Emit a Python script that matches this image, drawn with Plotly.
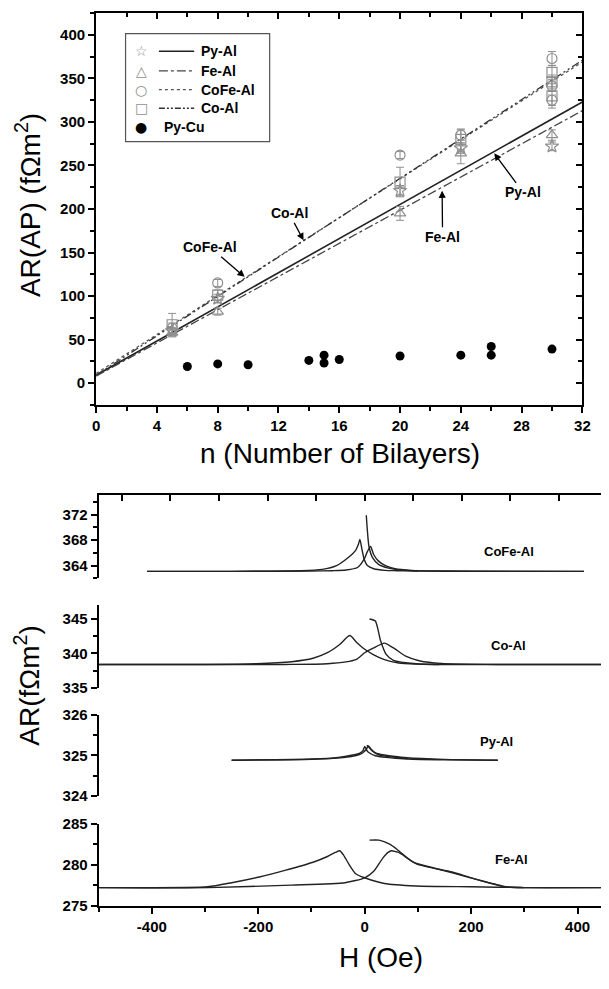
import plotly.graph_objects as go

W, HGT = 609, 989
FONT = "Liberation Sans, Arial, sans-serif"


def fx(p):
    return p / W


def fy(p):
    return 1 - p / HGT


# ---------------- upper panel: AR(AP) versus number of bilayers ----------------
py_al_n = [5, 8, 20, 24, 30]
py_al_ar = [60, 97, 221, 270, 272]
py_al_err = [4, 5, 6, 6, 5]

fe_al_n = [5, 8, 20, 24, 30]
fe_al_ar = [58, 82, 195, 264, 285]
fe_al_err = [5, 4, 8, 12, 6]

cofe_al_n = [5, 8, 20, 24, 30, 30, 30]
cofe_al_ar = [63, 115, 262, 285, 373, 341, 325]
cofe_al_err = [6, 4, 4, 6, 8, 6, 6]

co_al_n = [5, 8, 20, 24, 30, 30, 30]
co_al_ar = [67, 101, 231, 280, 357, 346, 330]
co_al_err = [13, 6, 17, 12, 8, 8, 14]

py_cu_n = [6, 8, 10, 14, 15, 15, 16, 20, 24, 26, 26, 30]
py_cu_ar = [19, 22, 21, 26, 32, 23, 27, 31, 32, 42, 32, 39]

# linear fits, end points at n = 0 and n = 32
fit_n = [0, 32]
py_al_fit = [9, 323]
fe_al_fit = [8, 313]
cofe_al_fit = [11, 369]
co_al_fit = [9, 371]

# ---------------- lower panels: AR versus field H (Oe) ----------------
cofe_down_h = [412, 200, 100, 60, 38, 17, 5, -1, -5.5, -9, -12, -17, -32, -53, -80, -120, -250, -409]
cofe_down_ar = [363.1, 363.1, 363.15, 363.2, 363.25, 363.5, 364.0, 365.0, 366.7, 368.1, 367.3,
                366.4, 365.2, 364.0, 363.4, 363.2, 363.1, 363.1]
cofe_up_h = [-409, -250, -100, -60, -35, -13.5, -1, 5, 11, 17, 26, 39, 57, 88, 150, 412]
cofe_up_ar = [363.1, 363.1, 363.15, 363.2, 363.3, 363.7, 365.0, 366.2, 367.0, 365.7, 364.7,
              364.0, 363.5, 363.25, 363.15, 363.1]
cofe_init_h = [3, 5, 8, 15, 26, 45, 70, 100]
cofe_init_ar = [371.9, 369.5, 367.0, 365.2, 364.2, 363.6, 363.3, 363.15]

co_down_h = [444, 250, 131, 97, 64, 37, 17, 0, -15, -28, -47, -70, -97, -137, -204, -300, -500]
co_down_ar = [338.4, 338.4, 338.4, 338.45, 338.6, 339.1, 339.8, 340.6, 341.6, 342.6, 341.3,
              340.1, 339.3, 338.8, 338.5, 338.4, 338.4]
co_up_h = [-500, -300, -150, -70, -16.6, 0, 17, 37, 54, 77, 104, 144, 250, 444]
co_up_ar = [338.4, 338.4, 338.4, 338.5, 339.1, 340.1, 340.8, 341.5, 340.8, 339.6, 338.9,
            338.55, 338.4, 338.4]
co_init_h = [9, 20, 30, 40, 54, 97, 140]
co_init_ar = [345.0, 344.7, 341.8, 339.9, 339.0, 338.5, 338.4]

py_down_h = [250, 150, 80, 40, 20, 10, 5, 0, -3, -10, -25, -50, -100, -250]
py_down_ar = [324.88, 324.89, 324.91, 324.95, 324.99, 325.05, 325.1, 325.22, 325.12, 325.05,
              325.0, 324.95, 324.91, 324.88]
py_up_h = [-250, -100, -50, -25, -10, -3, 3, 7, 12, 20, 40, 80, 150, 250]
py_up_ar = [324.88, 324.9, 324.93, 324.97, 325.02, 325.07, 325.15, 325.23, 325.15, 325.06,
            325.0, 324.94, 324.9, 324.88]
py_init_h = [4, 8, 15, 25, 45, 80]
py_init_ar = [325.25, 325.2, 325.1, 325.02, 324.97, 324.92]

fe_down_h = [444, 300, 198, 97, 37, 0, -17, -30, -40, -47, -55, -70, -97, -150, -198, -250, -295, -500]
fe_down_ar = [277.2, 277.2, 277.3, 277.4, 277.7, 278.4, 278.9, 280.1, 281.2, 281.7, 281.5, 281.0,
              280.3, 279.3, 278.5, 277.8, 277.3, 277.2]
fe_up_h = [-500, -295, -137, -37, 0, 17, 34, 44, 50.5, 58, 64, 97, 164, 205, 265, 298, 444]
fe_up_ar = [277.2, 277.2, 277.5, 277.8, 278.4, 279.2, 280.8, 281.5, 281.7, 281.6, 281.5, 280.1,
            279.1, 278.3, 277.3, 277.2, 277.2]
fe_init_h = [9, 27, 47, 64, 91, 130, 170, 210, 265, 300]
fe_init_ar = [283.0, 283.0, 282.5, 281.7, 280.3, 279.6, 278.9, 278.2, 277.3, 277.2]

h_ticks = [-400, -200, 0, 200, 400]
h_tick_text = ["-400", "-200", "0", "200", "400"]

fig = go.Figure()

# ---- fit lines ----
fit_styles = [
    (py_al_fit, dict(color="#222", width=1.6, dash="solid")),
    (fe_al_fit, dict(color="#444", width=1.3, dash="dashdot")),
    (cofe_al_fit, dict(color="#555", width=1.3, dash="dot")),
    (co_al_fit, dict(color="#333", width=1.3, dash="8px,3px,2px,3px,2px,3px")),
]
for vals, ln in fit_styles:
    fig.add_trace(go.Scatter(x=fit_n, y=vals, mode="lines", line=ln,
                             xaxis="x", yaxis="y", showlegend=False, hoverinfo="skip"))

# ---- measured points with error bars ----
GRAY = "#8f8f8f"
marker_sets = [
    (co_al_n, co_al_ar, co_al_err, "square-open"),
    (cofe_al_n, cofe_al_ar, cofe_al_err, "circle-open"),
    (fe_al_n, fe_al_ar, fe_al_err, "triangle-up-open"),
    (py_al_n, py_al_ar, py_al_err, "star-open"),
]
for nx, ar, err, sym in marker_sets:
    fig.add_trace(go.Scatter(
        x=nx, y=ar, mode="markers",
        marker=dict(symbol=sym, size=10, color=GRAY, line=dict(width=1.2, color=GRAY)),
        error_y=dict(type="data", array=err, color=GRAY, thickness=1, width=4),
        xaxis="x", yaxis="y", showlegend=False))

fig.add_trace(go.Scatter(x=py_cu_n, y=py_cu_ar, mode="markers",
                         marker=dict(symbol="circle", size=9, color="black"),
                         xaxis="x", yaxis="y", showlegend=False))

# empty trace carrying the mirrored top/right axes of the upper panel
fig.add_trace(go.Scatter(x=[], y=[], xaxis="x6", yaxis="y6", showlegend=False))

# ---- field sweeps ----
LC = dict(color="#222", width=1.4)
panels = [
    ("x2", "y2", [(cofe_down_h, cofe_down_ar), (cofe_up_h, cofe_up_ar), (cofe_init_h, cofe_init_ar)]),
    ("x3", "y3", [(co_down_h, co_down_ar), (co_up_h, co_up_ar), (co_init_h, co_init_ar)]),
    ("x4", "y4", [(py_down_h, py_down_ar), (py_up_h, py_up_ar), (py_init_h, py_init_ar)]),
    ("x5", "y5", [(fe_down_h, fe_down_ar), (fe_up_h, fe_up_ar), (fe_init_h, fe_init_ar)]),
]
for xa, ya, curves in panels:
    for hx, ar in curves:
        fig.add_trace(go.Scatter(x=hx, y=ar, mode="lines", line=dict(LC, shape="spline", smoothing=0.6),
                                 xaxis=xa, yaxis=ya, showlegend=False, hoverinfo="skip"))

tickfont = dict(family=FONT, size=15, color="black", weight="bold")
base_ax = dict(showgrid=False, zeroline=False, showline=True, linecolor="black",
               linewidth=2, tickcolor="black", tickwidth=1.5, tickfont=tickfont)
MINOR_OUT = dict(ticks="outside", ticklen=4, tickcolor="black", tickwidth=1.5)
MINOR_IN = dict(ticks="inside", ticklen=4, tickcolor="black", tickwidth=1.5)

top_xdom = [fx(94), fx(590)]
top_ydom = [fy(402.7), fy(4.3)]
bot_xdom = [fx(96.5), 1.0]
H_RANGE = [-500, 444]

layout = dict(
    width=W, height=HGT, margin=dict(l=0, r=0, t=0, b=0),
    paper_bgcolor="white", plot_bgcolor="white", showlegend=False,
    xaxis=dict(base_ax, domain=top_xdom, anchor="y", range=[0, 32], ticks="outside",
               ticklen=6, dtick=4, tick0=0, minor=dict(MINOR_OUT, dtick=2)),
    yaxis=dict(base_ax, domain=top_ydom, anchor="x", range=[-25, 425], ticks="outside",
               ticklen=6, dtick=50, tick0=0, minor=dict(MINOR_OUT, dtick=25)),
    xaxis6=dict(base_ax, domain=top_xdom, anchor="y6", overlaying="x", side="top",
                range=[0, 32], ticks="inside", ticklen=6, dtick=4, tick0=0, showticklabels=False,
                minor=dict(MINOR_IN, dtick=2)),
    yaxis6=dict(base_ax, domain=top_ydom, anchor="x6", overlaying="y", side="right",
                range=[-25, 425], ticks="inside", ticklen=6, dtick=50, tick0=0,
                showticklabels=False, minor=dict(MINOR_IN, dtick=25)),
    # CoFe-Al panel: top frame with inward ticks
    xaxis2=dict(base_ax, domain=bot_xdom, anchor="y2", side="top", range=H_RANGE,
                ticks="inside", ticklen=6, tick0=0, dtick=91.25, showticklabels=False),
    yaxis2=dict(base_ax, domain=[fy(579.3), fy(495)], anchor="x2", range=[362, 375],
                ticks="outside", ticklen=6, tick0=364, dtick=4, minor=dict(MINOR_OUT, dtick=2)),
    xaxis3=dict(domain=bot_xdom, anchor="y3", range=H_RANGE, visible=False),
    yaxis3=dict(base_ax, domain=[fy(690.7), fy(606)], anchor="x3", range=[335, 347.1],
                ticks="outside", ticklen=6, tick0=335, dtick=5, minor=dict(MINOR_OUT, dtick=2.5)),
    xaxis4=dict(domain=bot_xdom, anchor="y4", range=H_RANGE, visible=False),
    yaxis4=dict(base_ax, domain=[fy(800.7), fy(718)], anchor="x4", range=[324, 326],
                ticks="outside", ticklen=6, tick0=324, dtick=1, minor=dict(MINOR_OUT, dtick=0.5)),
    xaxis5=dict(base_ax, domain=bot_xdom, anchor="y5", range=H_RANGE, ticks="outside",
                ticklen=6, tickmode="array", tickvals=h_ticks, ticktext=h_tick_text,
                minor=dict(MINOR_OUT, tickmode="linear", tick0=0, dtick=100)),
    yaxis5=dict(base_ax, domain=[fy(912.3), fy(829)], anchor="x5", range=[275, 285],
                ticks="outside", ticklen=6, tick0=275, dtick=5, minor=dict(MINOR_OUT, dtick=2.5)),
)
fig.update_layout(**layout)

annotations = []
shapes = []

# axis titles
title_font = dict(family=FONT, size=28, color="black")
annotations += [
    dict(text="n (Number of Bilayers)", x=fx(343), y=fy(452), xref="paper", yref="paper",
         showarrow=False, font=title_font, xanchor="center", yanchor="middle"),
    dict(text="AR(AP) (f\u03a9m<sup>2</sup>)", x=fx(24), y=fy(200), xref="paper", yref="paper",
         showarrow=False, font=title_font, textangle=-90, xanchor="center", yanchor="middle"),
    dict(text="AR(f\u03a9m<sup>2</sup>)", x=fx(24), y=fy(688), xref="paper", yref="paper",
         showarrow=False, font=title_font, textangle=-90, xanchor="center", yanchor="middle"),
    dict(text="H (Oe)", x=fx(385), y=fy(965), xref="paper", yref="paper",
         showarrow=False, font=title_font, xanchor="center", yanchor="middle"),
]

# labelled arrows on the fit lines
lab_font = dict(family=FONT, size=14, color="black", weight="bold")
arrow_labels = [
    ("CoFe-Al", 9.77, 122, 7.5, 156),
    ("Co-Al", 13.65, 164, 12.7, 195),
    ("Fe-Al", 22.77, 221, 22.8, 168),
    ("Py-Al", 26.2, 264, 28.1, 219),
]
for txt, xt, yt, xa, ya in arrow_labels:
    annotations.append(dict(text=txt, x=xt, y=yt, ax=xa, ay=ya, xref="x", yref="y",
                            axref="x", ayref="y", showarrow=True, arrowhead=2, arrowsize=1.1,
                            arrowwidth=1.3, arrowcolor="black", font=lab_font))

# sample names in the field-sweep panels
panel_labels = [
    ("CoFe-Al", "x2", "y2", 271, 366.2),
    ("Co-Al", "x3", "y3", 271, 341.1),
    ("Py-Al", "x4", "y4", 248, 325.35),
    ("Fe-Al", "x5", "y5", 275, 280.6),
]
for txt, xa, ya, hx, ar in panel_labels:
    annotations.append(dict(text=txt, x=hx, y=ar, xref=xa, yref=ya, showarrow=False,
                            font=dict(family=FONT, size=13, color="black", weight="bold")))

# legend box
shapes.append(dict(type="rect", xref="paper", yref="paper", x0=fx(124), x1=fx(271),
                   y0=fy(135), y1=fy(25), line=dict(color="#555", width=1.2),
                   fillcolor="white", layer="above"))
legend_rows = [
    ("\u2606", GRAY, "Py-Al", "solid", "#222"),
    ("\u25b3", GRAY, "Fe-Al", "dashdot", "#444"),
    ("\u25cb", GRAY, "CoFe-Al", "dot", "#555"),
    ("\u25a1", GRAY, "Co-Al", "6px,2px,2px,2px,2px,2px", "#333"),
    ("\u25cf", "black", "Py-Cu", None, None),
]
row_y = [43, 63, 82, 101, 120]
for (glyph, gcol, name, dash, lcol), yy in zip(legend_rows, row_y):
    annotations.append(dict(text=glyph, x=fx(140), y=fy(yy), xref="paper", yref="paper",
                            showarrow=False, font=dict(family="DejaVu Sans", size=14, color=gcol),
                            xanchor="center", yanchor="middle"))
    if dash is not None:
        shapes.append(dict(type="line", xref="paper", yref="paper", x0=fx(158), x1=fx(194),
                           y0=fy(yy), y1=fy(yy), line=dict(color=lcol, width=1.4, dash=dash),
                           layer="above"))
        tx = 199
    else:
        tx = 161
    annotations.append(dict(text=name, x=fx(tx), y=fy(yy), xref="paper", yref="paper",
                            showarrow=False, xanchor="left", yanchor="middle",
                            font=dict(family=FONT, size=14, color="black", weight="bold")))

fig.update_layout(annotations=annotations, shapes=shapes)
fig.write_html("out.html")
